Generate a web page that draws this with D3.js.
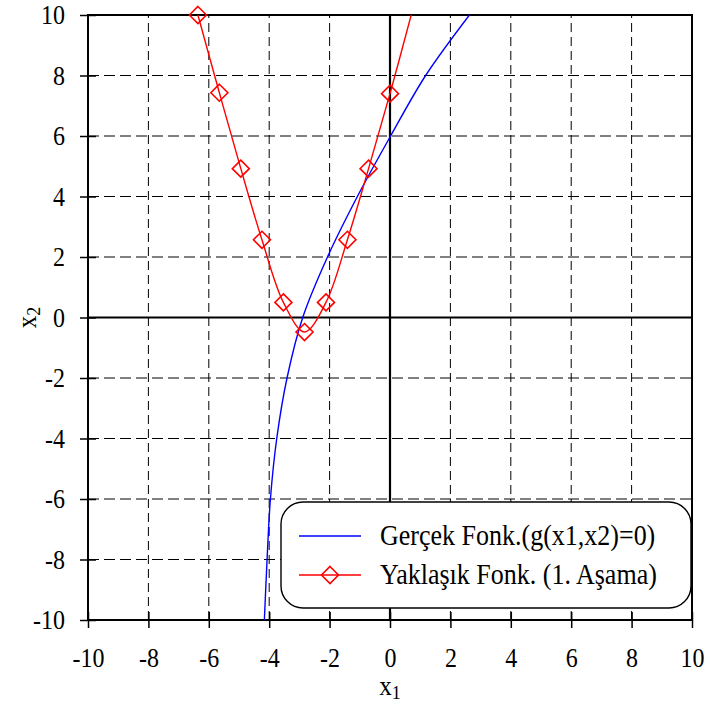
<!DOCTYPE html>
<html>
<head>
<meta charset="utf-8">
<script src="https://cdn.jsdelivr.net/npm/d3@7"></script>
<style>
  body { margin: 0; background: #fff; }
  text { font-family: "Liberation Serif", "Times New Roman", serif; fill: #000; }
</style>
</head>
<body>
<div id="chart"></div>
<script>
// tick values for both axes
const ticks = [-10, -8, -6, -4, -2, 0, 2, 4, 6, 8, 10];

// true function g(x1,x2)=0
const realX1 = [-4.16, -4.07, -3.96, -3.75, -3.41, -2.89, -2.07, -1.08, 0.02, 1.18, 2.63];
const realX2 = [-10, -8, -6, -4, -2, 0, 2, 4, 6, 8, 10];

// approximate function (1st stage), last point just above the top edge
const apprX1 = [-6.36, -5.65, -4.94, -4.24, -3.53, -2.83, -2.12, -1.41, -0.71, 0.0, 0.71];
const apprX2 = [10.0, 7.43, 4.92, 2.57, 0.50, -0.48, 0.50, 2.57, 4.92, 7.40, 10.03];

const legendLabels = ['Gerçek Fonk.(g(x1,x2)=0)', 'Yaklaşık Fonk. (1. Aşama)'];

const width = 710;
const height = 706;
const margin = {top: 15, right: 18, bottom: 86, left: 88};
const sy = 1.1; // text in the source is a bit taller than wide

const svg = d3.select('#chart')
    .append('svg')
        .attr('width', width)
        .attr('height', height);

const x = d3.scaleLinear()
    .domain([-10, 10])
    .range([margin.left, width - margin.right]);
const y = d3.scaleLinear()
    .domain([-10, 10])
    .range([height - margin.bottom, margin.top]);

svg.append('clipPath')
    .attr('id', 'plot')
    .append('rect')
        .attr('x', x(-10))
        .attr('y', y(10))
        .attr('width', x(10) - x(-10))
        .attr('height', y(-10) - y(10));

// dashed grid
const inner = ticks.filter(d => d !== 0 && Math.abs(d) !== 10);
svg.append('g')
    .selectAll('line')
    .data(inner)
    .join('line')
        .attr('x1', d => x(d)).attr('x2', d => x(d))
        .attr('y1', y(-10)).attr('y2', y(10))
        .attr('stroke', '#000')
        .attr('stroke-width', 1)
        .attr('stroke-dasharray', '9,5');
svg.append('g')
    .selectAll('line')
    .data(inner)
    .join('line')
        .attr('y1', d => y(d)).attr('y2', d => y(d))
        .attr('x1', x(-10)).attr('x2', x(10))
        .attr('stroke', '#000')
        .attr('stroke-width', 1)
        .attr('stroke-dasharray', '11,5');

// zero axes
svg.append('line')
    .attr('x1', x(0)).attr('x2', x(0))
    .attr('y1', y(-10)).attr('y2', y(10))
    .attr('stroke', '#000').attr('stroke-width', 2.2);
svg.append('line')
    .attr('y1', y(0)).attr('y2', y(0))
    .attr('x1', x(-10)).attr('x2', x(10))
    .attr('stroke', '#000').attr('stroke-width', 2.2);

// frame
svg.append('rect')
    .attr('x', x(-10))
    .attr('y', y(10))
    .attr('width', x(10) - x(-10))
    .attr('height', y(-10) - y(10))
    .attr('fill', 'none')
    .attr('stroke', '#000')
    .attr('stroke-width', 2);

const fmt = d => String(d); // plain hyphen, as in the source

const xx = g =>
    g
        .attr('transform', `translate(0,${y(-10)})`)
        .call(d3.axisBottom(x)
            .tickValues(ticks)
            .tickFormat(fmt)
            .tickSizeOuter(0)
            .tickSize(8))
        .call(g => g.select('.domain').remove())
        .call(g => g.selectAll('.tick line')
            .attr('y1', -8).attr('y2', 8)
            .attr('stroke-width', 1.5))
        .call(g => g.selectAll('.tick text')
            .attr('y', 47 / sy)
            .attr('dy', 0)
            .attr('transform', `scale(1,${sy})`)
            .style('font-size', '24px'));
const yy = g =>
    g
        .attr('transform', `translate(${x(-10)},0)`)
        .call(d3.axisLeft(y)
            .tickValues(ticks)
            .tickFormat(fmt)
            .tickSizeOuter(0)
            .tickSize(8))
        .call(g => g.select('.domain').remove())
        .call(g => g.selectAll('.tick line')
            .attr('x1', -8).attr('x2', 8)
            .attr('stroke-width', 1.5))
        .call(g => g.selectAll('.tick text')
            .attr('x', -23)
            .attr('dy', '0.34em')
            .attr('transform', `scale(1,${sy})`)
            .style('font-size', '24px'));

svg.append('g').call(xx);
svg.append('g').call(yy);

// axis titles
const xt = svg.append('text')
    .attr('transform', `translate(${x(0)},${y(-10) + 75}) scale(1,${sy})`)
    .attr('text-anchor', 'middle')
    .style('font-size', '25px');
xt.append('tspan').text('x');
xt.append('tspan').attr('dy', 4).style('font-size', '18px').text('1');

const yt = svg.append('text')
    .attr('transform', `translate(36,${y(0)}) rotate(-90) scale(1,${sy})`)
    .attr('text-anchor', 'middle')
    .style('font-size', '25px');
yt.append('tspan').text('x');
yt.append('tspan').attr('dy', 4).style('font-size', '18px').text('2');

// curves
const real = realX1.map((d, i) => [d, realX2[i]]);
const appr = apprX1.map((d, i) => [d, apprX2[i]]);

const line = d3.line()
    .curve(d3.curveCatmullRom.alpha(0.5))
    .x(d => x(d[0]))
    .y(d => y(d[1]));

svg.append('path')
    .datum(real)
    .attr('clip-path', 'url(#plot)')
    .attr('fill', 'none')
    .attr('stroke', '#0000ff')
    .attr('stroke-width', 1.4)
    .attr('d', line);

svg.append('path')
    .datum(appr)
    .attr('clip-path', 'url(#plot)')
    .attr('fill', 'none')
    .attr('stroke', '#ff0000')
    .attr('stroke-width', 1.4)
    .attr('d', line);

const diamond = r => `M0,${-r}L${r},0L0,${r}L${-r},0Z`;

svg.append('g')
    .selectAll('path')
    .data(appr.filter(d => d[1] <= 10))
    .join('path')
        .attr('transform', d => `translate(${x(d[0])},${y(d[1])})`)
        .attr('d', diamond(8.5))
        .attr('fill', 'none')
        .attr('stroke', '#ff0000')
        .attr('stroke-width', 1.6);

// legend
const lg = svg.append('g');
lg.append('rect')
    .attr('x', 281).attr('y', 502)
    .attr('width', 410).attr('height', 106)
    .attr('rx', 22).attr('ry', 22)
    .attr('fill', '#fff')
    .attr('stroke', '#000')
    .attr('stroke-width', 1.4);

const legendColors = ['#0000ff', '#ff0000'];
const legendY = [536, 575];
legendLabels.forEach((label, i) => {
    lg.append('line')
        .attr('x1', 299).attr('x2', 361)
        .attr('y1', legendY[i]).attr('y2', legendY[i])
        .attr('stroke', legendColors[i])
        .attr('stroke-width', 1.4);
    if (i === 1) {
        lg.append('path')
            .attr('transform', `translate(330,${legendY[i]})`)
            .attr('d', diamond(8.5))
            .attr('fill', 'none')
            .attr('stroke', '#ff0000')
            .attr('stroke-width', 1.6);
    }
    lg.append('text')
        .attr('transform', `translate(380,${legendY[i] + 9}) scale(1,${sy})`)
        .style('font-size', '26px')
        .text(label);
});
</script>
</body>
</html>
